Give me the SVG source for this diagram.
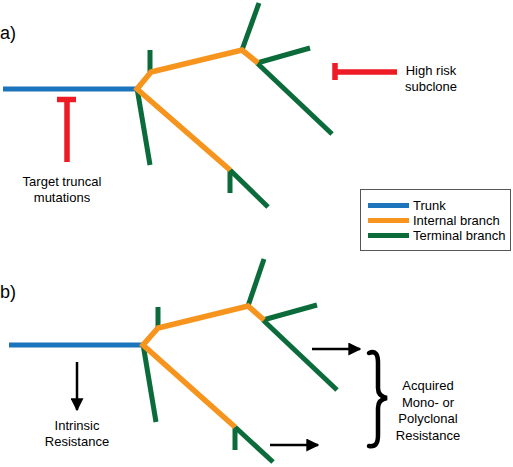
<svg xmlns="http://www.w3.org/2000/svg" width="513" height="467" viewBox="0 0 513 467">
<defs>
<style>
.trunk{stroke:#1c75bc;stroke-width:5;fill:none}
.int{stroke:#f7941d;stroke-width:5.5;fill:none;stroke-linejoin:miter}
.term{stroke:#0b6b3a;stroke-width:5;fill:none}
.red{stroke:#ed1c24;stroke-width:5.5;fill:none}
.blk{stroke:#000;stroke-width:2.5;fill:none}
text{font-family:"Liberation Sans",Arial,sans-serif;font-size:13px;fill:#000}
.lbl{font-size:18px}
.mid{text-anchor:middle}
</style>
<marker id="ah" viewBox="0 0 10 10" refX="9" refY="5" markerWidth="5.2" markerHeight="5.2" markerUnits="strokeWidth" orient="auto">
<path d="M0,0 L10,5 L0,10 z" fill="#000"/>
</marker>
</defs>
<rect width="513" height="467" fill="#fff"/>

<text class="lbl" x="0" y="39">a)</text>
<text class="lbl" x="0" y="298">b)</text>

<g id="tree-a">
<line class="trunk" x1="3" y1="89" x2="138" y2="89"/>
<line class="term" x1="150" y1="50" x2="150" y2="72"/>
<line class="term" x1="137" y1="88" x2="150" y2="165"/>
<line class="term" x1="230" y1="170" x2="268" y2="207"/>
<line class="term" x1="230" y1="170" x2="230" y2="193"/>
<line class="term" x1="242" y1="50" x2="259" y2="3"/>
<line class="term" x1="257" y1="63" x2="310" y2="48"/>
<line class="term" x1="257" y1="63" x2="332" y2="134"/>
<polyline class="int" points="230,170 137,89 151,72 242,50 258,63"/>
</g>

<g id="target-truncal">
<line class="red" x1="57" y1="99.5" x2="76" y2="99.5"/>
<line class="red" x1="67" y1="99" x2="67" y2="162"/>
<text class="mid" x="62" y="186">Target truncal</text>
<text class="mid" x="62" y="202">mutations</text>
</g>

<g id="high-risk">
<line class="red" x1="335" y1="63" x2="335" y2="80"/>
<line class="red" x1="335" y1="72" x2="397" y2="72"/>
<text class="mid" x="431" y="75">High risk</text>
<text class="mid" x="431" y="91">subclone</text>
</g>

<g id="legend">
<rect x="360.5" y="189.5" width="150" height="61" fill="#fff" stroke="#555" stroke-width="1"/>
<line class="trunk" x1="368" y1="205.5" x2="409" y2="205.5"/>
<line class="int" x1="368" y1="220.5" x2="409" y2="220.5" style="stroke-width:5"/>
<line class="term" x1="368" y1="235.5" x2="409" y2="235.5"/>
<text x="413" y="210">Trunk</text>
<text x="413" y="225">Internal branch</text>
<text x="413" y="240">Terminal branch</text>
</g>

<g id="tree-b">
<line class="trunk" x1="9" y1="345" x2="144" y2="345"/>
<line class="term" x1="158" y1="307" x2="158" y2="328"/>
<line class="term" x1="143" y1="344" x2="156" y2="422"/>
<line class="term" x1="235" y1="427" x2="273" y2="462"/>
<line class="term" x1="235" y1="427" x2="235" y2="450"/>
<line class="term" x1="248" y1="306" x2="264" y2="259"/>
<line class="term" x1="263" y1="320" x2="317" y2="305"/>
<line class="term" x1="263" y1="320" x2="337" y2="390"/>
<polyline class="int" points="235,427 143,345 158,328 248,306 264,320"/>
</g>

<g id="intrinsic">
<line class="blk" x1="77" y1="362" x2="77" y2="410" marker-end="url(#ah)"/>
<text class="mid" x="77" y="430">Intrinsic</text>
<text class="mid" x="77" y="446">Resistance</text>
</g>

<g id="connectors">
<line class="blk" x1="312" y1="349" x2="360" y2="349" marker-end="url(#ah)"/>
<line class="blk" x1="270" y1="445" x2="318" y2="445" marker-end="url(#ah)"/>
</g>

<g id="acquired">
<path d="M369,353 C376,350 378,355 378,363 L378,388 C378,394 381,397 387,398 C381,399 378,402 378,408 L378,435 C378,443 376,447 369,446" fill="none" stroke="#000" stroke-width="4.5" stroke-linecap="round"/>
<text class="mid" x="428" y="390">Acquired</text>
<text class="mid" x="428" y="407">Mono- or</text>
<text class="mid" x="428" y="423">Polyclonal</text>
<text class="mid" x="428" y="440">Resistance</text>
</g>
</svg>
